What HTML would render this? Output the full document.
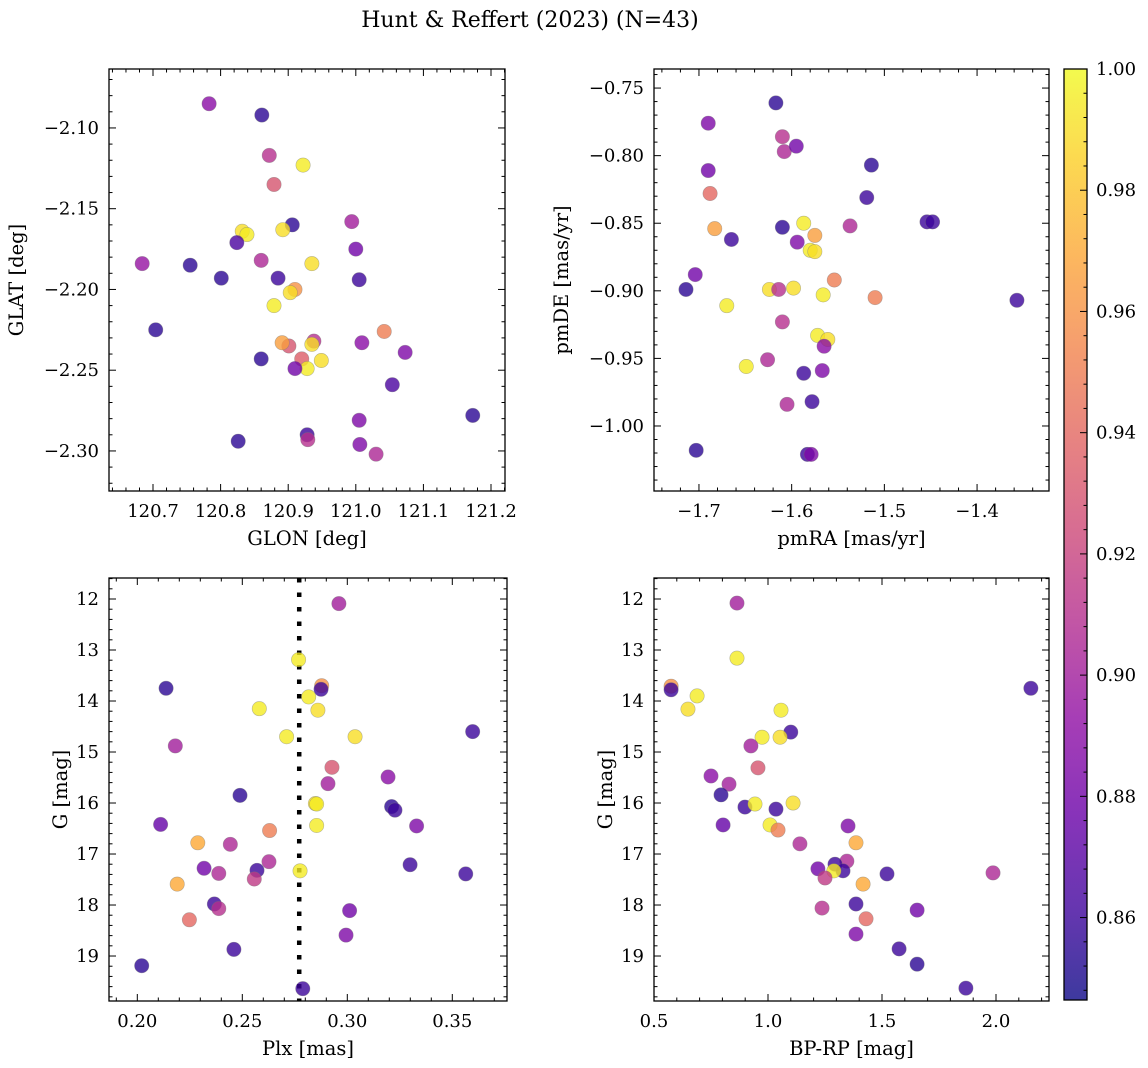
<!DOCTYPE html>
<html><head><meta charset="utf-8"><style>
body{margin:0;background:#fff}
svg{display:block;font-family:"DejaVu Serif","Liberation Serif",serif}
</style></head><body>
<svg id="fig" width="1148" height="1068" viewBox="0 0 1148 1068" xmlns="http://www.w3.org/2000/svg">
<defs><linearGradient id="plasma" x1="0" y1="1" x2="0" y2="0"></linearGradient></defs>
<text x="530" y="27" font-size="22" text-anchor="middle">Hunt &amp; Reffert (2023) (N=43)</text>
</svg>
<script>
// ---- data ----
const p1Lon=[120.783,120.861,120.872,120.922,120.879,120.994,120.906,120.832,120.839,120.892,120.824,120.684,120.755,120.935,121.0,120.860,120.801,120.885,121.005,120.910,120.903,120.879,120.704,121.042,120.938,120.901,120.891,120.935,121.009,121.073,120.86,120.920,120.949,120.928,120.910,121.054,121.173,121.005,120.928,120.929,121.006,120.826,121.030];
const p1Lat=[-2.085,-2.092,-2.117,-2.123,-2.135,-2.158,-2.160,-2.164,-2.166,-2.163,-2.171,-2.184,-2.185,-2.184,-2.175,-2.182,-2.193,-2.193,-2.194,-2.200,-2.202,-2.210,-2.225,-2.226,-2.232,-2.235,-2.233,-2.234,-2.233,-2.239,-2.243,-2.243,-2.244,-2.249,-2.249,-2.259,-2.278,-2.281,-2.290,-2.293,-2.296,-2.294,-2.302];
const p1Prob=[0.89,0.855,0.91,0.995,0.93,0.90,0.855,0.99,0.995,0.99,0.865,0.895,0.855,0.99,0.88,0.905,0.855,0.86,0.86,0.96,0.99,0.995,0.855,0.95,0.91,0.93,0.965,0.99,0.89,0.885,0.855,0.935,0.99,0.995,0.88,0.865,0.855,0.885,0.86,0.91,0.885,0.855,0.905];

const p2PmRA=[-1.617,-1.690,-1.610,-1.608,-1.595,-1.514,-1.690,-1.688,-1.519,-1.587,-1.454,-1.448,-1.610,-1.537,-1.683,-1.575,-1.665,-1.594,-1.580,-1.575,-1.704,-1.554,-1.714,-1.624,-1.614,-1.598,-1.566,-1.510,-1.357,-1.670,-1.610,-1.572,-1.561,-1.565,-1.626,-1.649,-1.567,-1.587,-1.578,-1.605,-1.703,-1.583,-1.579];
const p2PmDE=[-0.761,-0.776,-0.786,-0.797,-0.793,-0.807,-0.811,-0.828,-0.831,-0.850,-0.849,-0.849,-0.853,-0.852,-0.854,-0.859,-0.862,-0.864,-0.870,-0.871,-0.888,-0.892,-0.899,-0.899,-0.899,-0.898,-0.903,-0.905,-0.907,-0.911,-0.923,-0.933,-0.936,-0.941,-0.951,-0.956,-0.959,-0.961,-0.982,-0.984,-1.018,-1.021,-1.021];
const p2Prob=[0.855,0.885,0.91,0.905,0.88,0.855,0.88,0.94,0.86,0.995,0.86,0.86,0.855,0.905,0.965,0.965,0.86,0.885,0.995,0.99,0.88,0.95,0.855,0.99,0.91,0.99,0.995,0.95,0.86,0.995,0.91,0.995,0.99,0.89,0.905,0.995,0.885,0.86,0.86,0.905,0.855,0.86,0.885];

const p3Plx=[0.2960,0.2768,0.2137,0.2878,0.2875,0.2816,0.2581,0.2860,0.3597,0.2711,0.3037,0.2181,0.2927,0.3194,0.2908,0.2489,0.2848,0.2854,0.3211,0.3227,0.2111,0.2854,0.3330,0.2630,0.2288,0.2443,0.2627,0.3299,0.2318,0.2570,0.2775,0.2388,0.3564,0.2557,0.2190,0.2367,0.2388,0.3011,0.2248,0.2994,0.2460,0.2021,0.2788];
const p3G=[12.09,13.19,13.75,13.70,13.77,13.92,14.15,14.18,14.60,14.70,14.70,14.88,15.30,15.49,15.62,15.85,16.01,16.02,16.07,16.14,16.42,16.44,16.45,16.54,16.78,16.81,17.15,17.21,17.28,17.32,17.33,17.38,17.39,17.49,17.59,17.98,18.07,18.11,18.29,18.59,18.87,19.19,19.64];
const p3Prob=[0.90,0.995,0.855,0.96,0.86,0.995,0.995,0.99,0.86,0.995,0.99,0.90,0.93,0.89,0.90,0.855,0.99,0.995,0.855,0.86,0.875,0.995,0.885,0.95,0.97,0.905,0.905,0.86,0.88,0.86,0.995,0.905,0.86,0.915,0.97,0.86,0.91,0.88,0.94,0.885,0.86,0.855,0.86];
const plxLine=0.2771;

const p4Color=[0.575,0.575,0.689,0.649,2.153,0.864,0.864,0.974,1.10,1.053,1.057,0.925,0.956,0.75,0.829,0.794,0.899,0.943,1.035,1.11,0.803,1.009,1.044,1.14,1.386,1.351,1.346,1.294,1.219,1.329,1.289,1.522,1.987,1.25,1.417,1.386,1.237,1.654,1.43,1.386,1.575,1.654,1.868];
const p4G=[13.71,13.78,13.90,14.16,13.75,13.16,12.08,14.71,14.61,14.71,14.18,14.88,15.31,15.47,15.63,15.84,16.08,16.02,16.12,16.0,16.43,16.43,16.53,16.80,16.78,16.45,17.14,17.20,17.29,17.33,17.33,17.39,17.37,17.47,17.59,17.98,18.06,18.10,18.27,18.57,18.86,19.16,19.63];
const p4Prob=[0.96,0.86,0.995,0.99,0.86,0.995,0.90,0.995,0.86,0.99,0.995,0.90,0.93,0.89,0.90,0.855,0.86,0.995,0.86,0.99,0.875,0.995,0.95,0.905,0.97,0.885,0.905,0.86,0.88,0.86,0.995,0.86,0.905,0.915,0.97,0.86,0.91,0.88,0.94,0.885,0.86,0.855,0.86];

const cbTicks=[0.86,0.88,0.90,0.92,0.94,0.96,0.98,1.00];
const vmin=0.8464, vmax=1.0;
// ---- rendering ----
const NS='http://www.w3.org/2000/svg';
const svg=document.getElementById('fig');
const stops=['#0d0887','#41049d','#6a00a8','#8f0da4','#b12a90','#cc4778','#e16462','#f2844b','#fca636','#fcce25','#f0f921'];
function hex(h){return [1,3,5].map(i=>parseInt(h.substr(i,2),16));}
function cmap(v){let t=Math.max(0,Math.min(1,(v-vmin)/(vmax-vmin)))*10;let i=Math.min(9,Math.floor(t)),f=t-i;
 const a=hex(stops[i]),b=hex(stops[i+1]);return 'rgb('+a.map((c,k)=>Math.round(c+(b[k]-c)*f)).join(',')+')';}
function el(tag,attrs,parent){const e=document.createElementNS(NS,tag);for(const k in attrs)e.setAttribute(k,attrs[k]);(parent||svg).appendChild(e);return e;}
function fmt(v,d){let s=v.toFixed(d);return s.replace('-','\u2212');}
const TF=18, LF=19.5;

function panel(name,box,xd,yd,xt,yt,xDec,yDec,xlab,ylab,xs,ys,ps,extra){
 const [L,T,R,B]=box;
 const g=el('g',{});
 
 
 const sx=v=>L+(v-xd[0])/(xd[1]-xd[0])*(R-L);
 const sy=v=>T+(v-yd[0])/(yd[1]-yd[0])*(B-T);
 const clipId=name+'-clip';
 const cp=el('clipPath',{id:clipId},g);el('rect',{x:L,y:T,width:R-L,height:B-T},cp);
 const pg=el('g',{'clip-path':'url(#'+clipId+')'},g);
 if(extra){const ln=el('line',{x1:sx(extra),x2:sx(extra),y1:T,y2:B,stroke:'#000','stroke-width':4.5,'stroke-dasharray':'4.5 10'},pg);
  
  }
 for(let i=0;i<xs.length;i++){
  const c=el('circle',{cx:sx(xs[i]),cy:sy(ys[i]),r:7.2,fill:cmap(ps[i]),'fill-opacity':0.8,stroke:'#777','stroke-opacity':0.5,'stroke-width':0.6},pg);
  
  
 }
 const ax=el('g',{stroke:'#000','stroke-width':1},g);
 const xstep=xt[1]-xt[0], ystep=yt[1]-yt[0];
 for(let v=xt[0]-xstep;v<=xd[1]+1e-9;v+=xstep/5){if(v<Math.min(xd[0],xd[1])-1e-9)continue;const x=sx(v);const maj=Math.abs(((v-xt[0])/xstep)-Math.round((v-xt[0])/xstep))<1e-3;const len=maj?7:3.5;
  el('line',{x1:x,x2:x,y1:B,y2:B-len},ax);el('line',{x1:x,x2:x,y1:T,y2:T+len},ax);}
 const ylo=Math.min(yd[0],yd[1]),yhi=Math.max(yd[0],yd[1]);
 const y0=Math.min(...yt);
 for(let v=y0-Math.abs(ystep)*2;v<=yhi+1e-9;v+=Math.abs(ystep)/5){if(v<ylo-1e-9)continue;const y=sy(v);const k=(v-y0)/Math.abs(ystep);const maj=Math.abs(k-Math.round(k))<1e-3;const len=maj?7:3.5;
  el('line',{x1:L,x2:L+len,y1:y,y2:y},ax);el('line',{x1:R,x2:R-len,y1:y,y2:y},ax);}
 el('rect',{x:L,y:T,width:R-L,height:B-T,fill:'none',stroke:'#000','stroke-width':1.3},g);
 xt.forEach(v=>{const t=el('text',{x:sx(v),y:B+26,'font-size':TF,'text-anchor':'middle'},g);t.textContent=fmt(v,xDec);
  
  });
 yt.forEach(v=>{const t=el('text',{x:L-10,y:sy(v)+6,'font-size':TF,'text-anchor':'end'},g);t.textContent=fmt(v,yDec);
  
  });
 const xl=el('text',{x:(L+R)/2,y:B+54,'font-size':LF,'text-anchor':'middle'},g);xl.textContent=xlab;
 
 
 const yx=L-(yDec===0?42:86), yy=(T+B)/2;
 const yl=el('text',{x:yx,y:yy,'font-size':LF,'text-anchor':'middle',transform:'rotate(-90 '+yx+' '+yy+')'},g);yl.textContent=ylab;
 
 
}
panel('panel-glon-glat',[109,69,505,491],[120.6349,121.2207],[-2.0635,-2.3248],[120.7,120.8,120.9,121.0,121.1,121.2],[-2.10,-2.15,-2.20,-2.25,-2.30],1,2,'GLON [deg]','GLAT [deg]',p1Lon,p1Lat,p1Prob);
panel('panel-pm',[654,69,1049,491],[-1.7485,-1.3224],[-0.7359,-1.0481],[-1.7,-1.6,-1.5,-1.4],[-0.75,-0.80,-0.85,-0.90,-0.95,-1.00],1,2,'pmRA [mas/yr]','pmDE [mas/yr]',p2PmRA,p2PmDE,p2Prob);
panel('panel-plx-g',[109,578,507,1001],[0.18652,0.37605],[11.588,19.882],[0.20,0.25,0.30,0.35],[12,13,14,15,16,17,18,19],2,0,'Plx [mas]','G [mag]',p3Plx,p3G,p3Prob,plxLine);
panel('panel-cmd',[654,578,1049,1001],[0.5,2.2325],[11.588,19.882],[0.5,1.0,1.5,2.0],[12,13,14,15,16,17,18,19],1,0,'BP-RP [mag]','G [mag]',p4Color,p4G,p4Prob);

const grad=document.getElementById('plasma');
for(let i=0;i<=40;i++){const v=vmin+(vmax-vmin)*i/40;el('stop',{offset:(i/40),'stop-color':cmap(v),'stop-opacity':0.8},grad);}
const cb=el('g',{});


const cT=69,cB=1000,cL=1064,cR=1087;
const cy=v=>cB-(v-vmin)/(vmax-vmin)*(cB-cT);
el('rect',{x:cL,y:cT,width:cR-cL,height:cB-cT,fill:'url(#plasma)'},cb);
for(let v=0.848;v<=1.0001;v+=0.004){const y=cy(v);const k=Math.round((v-0.848)/0.004);const maj=(k%5)===3;el('line',{x1:cR,x2:cR-(maj?7:3.5),y1:y,y2:y,stroke:'#000'},cb);}
el('rect',{x:cL,y:cT,width:cR-cL,height:cB-cT,fill:'none',stroke:'#000','stroke-width':1.3},cb);
cbTicks.forEach(v=>{const t=el('text',{x:cR+9,y:cy(v)+6,'font-size':TF},cb);t.textContent=v.toFixed(2);
 
 });
</script>
</body></html>
